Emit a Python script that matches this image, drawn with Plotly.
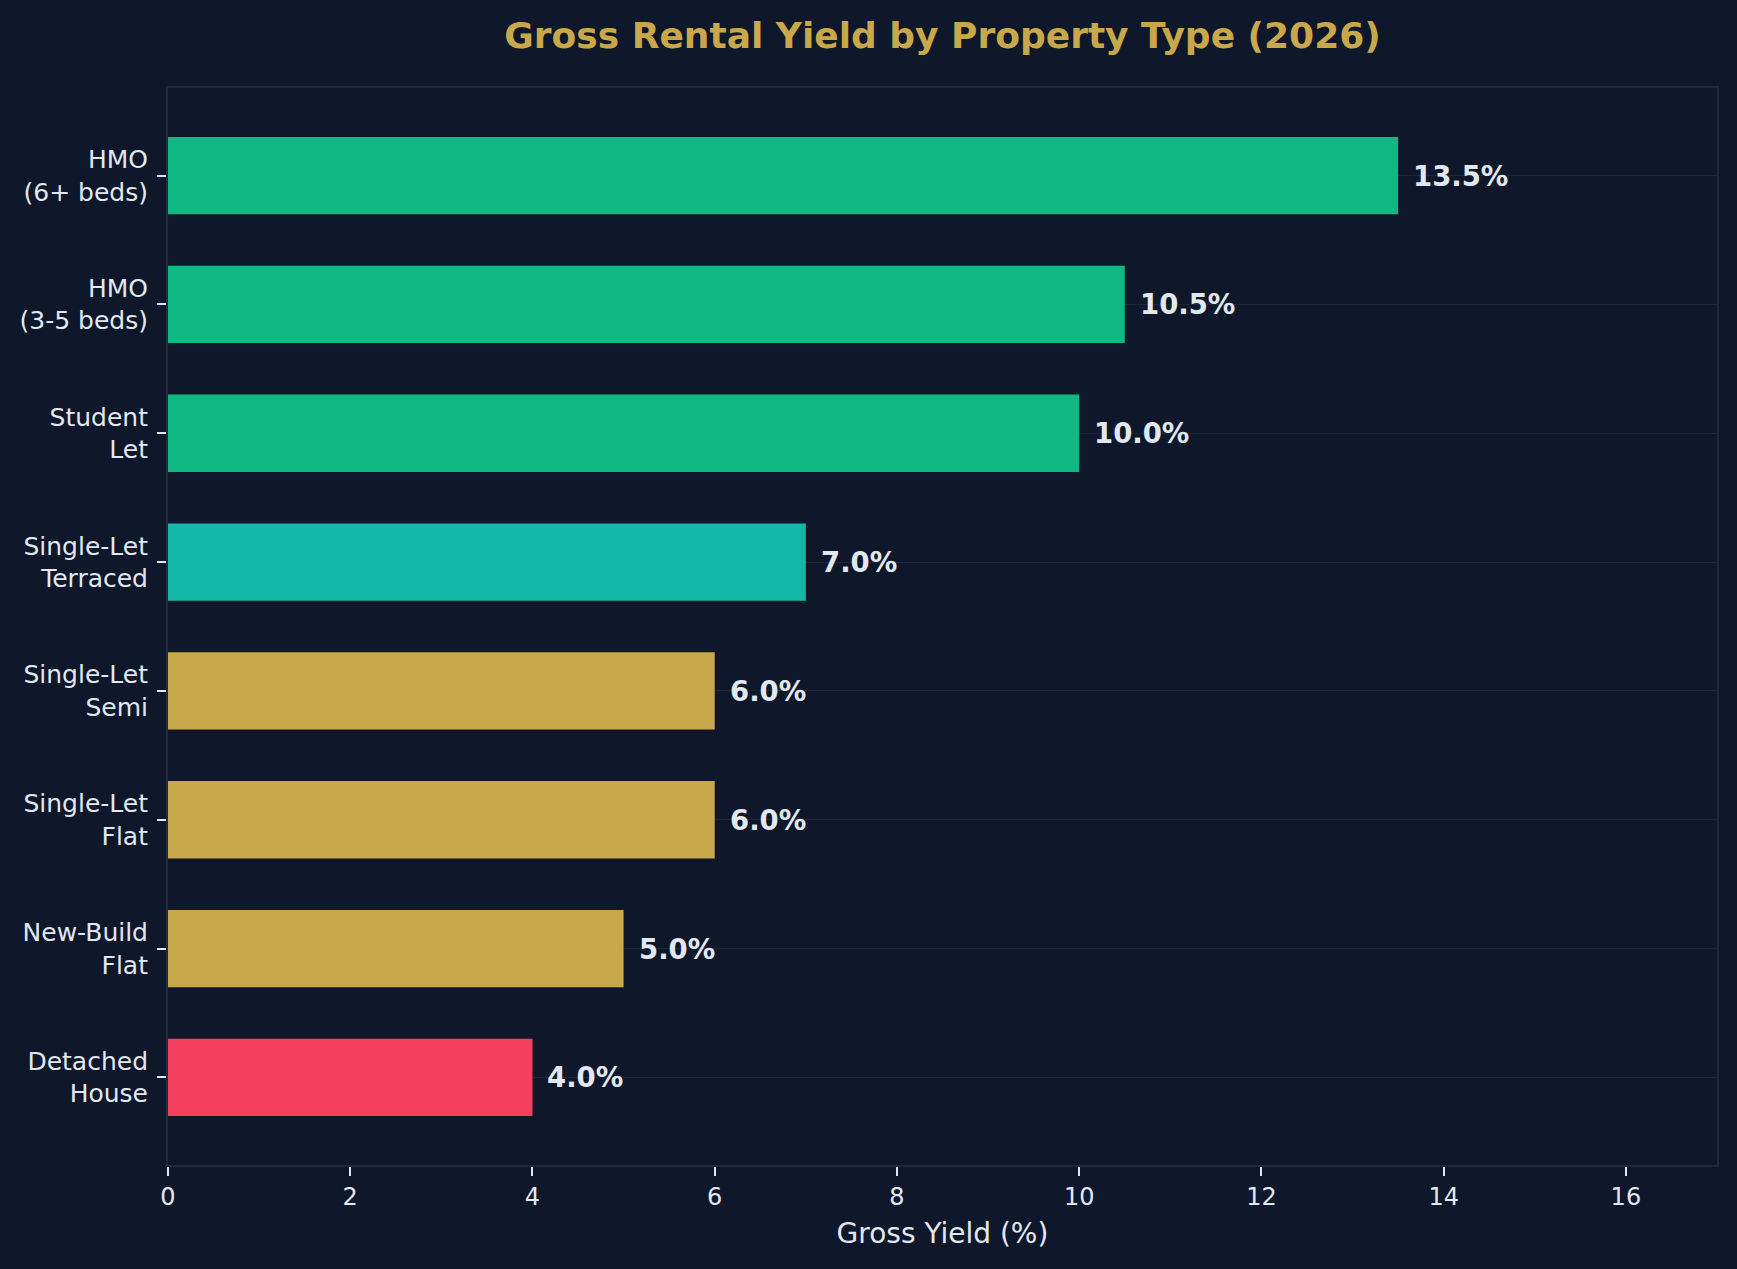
import plotly.graph_objects as go

categories = ["HMO<br>(6+ beds)", "HMO<br>(3-5 beds)", "Student<br>Let", "Single-Let<br>Terraced",
              "Single-Let<br>Semi", "Single-Let<br>Flat", "New-Build<br>Flat", "Detached<br>House"]
yields = [13.5, 10.5, 10.0, 7.0, 6.0, 6.0, 5.0, 4.0]
colors = ["#10B981", "#10B981", "#10B981", "#14B8A6", "#C9A84C", "#C9A84C", "#C9A84C", "#F43F5E"]
x_ticks = [0, 2, 4, 6, 8, 10, 12, 14, 16]

BG = "#0F172A"
TXT = "#E2E8F0"
SPINE = "#1E293B"
FONT = "DejaVu Sans"

fig = go.Figure()
fig.add_trace(go.Bar(
    y=categories, x=yields, orientation="h",
    marker=dict(color=colors, line=dict(width=0)),
    width=0.6, hoverinfo="skip",
))

for c, v in zip(categories, yields):
    fig.add_annotation(x=v, y=c, text=f"{v:.1f}%", showarrow=False,
                       xanchor="left", yanchor="middle", xshift=13,
                       font=dict(family=FONT, size=27.5, color=TXT, weight="bold"))

fig.update_layout(
    width=1737, height=1269,
    paper_bgcolor=BG, plot_bgcolor=BG,
    margin=dict(l=168, r=20, t=88, b=104),
    showlegend=False,
    title=dict(text="<b>Gross Rental Yield by Property Type (2026)</b>",
               x=(168 + 1717) / 2 / 1737, xanchor="center", y=1 - 35 / 1269, yanchor="middle",
               font=dict(family=FONT, size=36, color="#C9A84C")),
    font=dict(family=FONT, color=TXT),
)
fig.update_xaxes(
    range=[0, 17], tickvals=x_ticks, ticktext=[str(t) for t in x_ticks],
    showgrid=False, zeroline=False,
    showline=True, mirror=True, linecolor=SPINE, linewidth=2,
    ticks="outside", ticklen=9, tickwidth=1.5, tickcolor=TXT,
    tickfont=dict(family=FONT, size=24, color=TXT),
    title=dict(text="Gross Yield (%)", font=dict(family=FONT, size=28, color=TXT), standoff=14),
)
fig.update_yaxes(
    categoryorder="array", categoryarray=categories,
    range=[7.68, -0.68],
    showgrid=True, gridcolor="rgba(51,65,85,0.35)", gridwidth=1,
    zeroline=False,
    showline=True, mirror=True, linecolor=SPINE, linewidth=2,
    ticks="outside", ticklen=9, tickwidth=1.5, tickcolor=TXT,
    ticklabelstandoff=4,
    tickfont=dict(family=FONT, size=25, color=TXT),
)

fig.write_html("out.html")
